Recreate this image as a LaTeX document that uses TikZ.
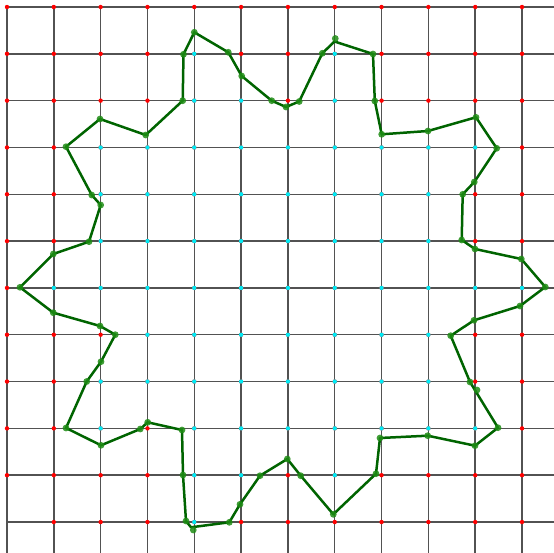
\documentclass[tikz,border=0pt]{standalone}
\usepackage{tikz}

\definecolor{ringline}{RGB}{0,100,0}
\definecolor{ringdot}{RGB}{30,140,20}
\definecolor{indot}{RGB}{0,235,245}

\tikzset{
  gridline/.style={line width=1.5pt, draw=black!68},
  ring/.style={line width=2.5pt, draw=ringline},
  outpt/.style={fill=red},
  inpt/.style={fill=indot},
  vertpt/.style={fill=ringdot, fill opacity=0.85}
}

\begin{document}
\begin{tikzpicture}[x=1pt, y=-1pt, line cap=round, line join=round]

  %% ════ 网格线 ════
  \foreach \i in {0,...,11} {
    \draw[gridline, line cap=butt] ({7+46.82*\i},7) -- ({7+46.82*\i},553);
    \draw[gridline, line cap=butt] (7,{7+46.82*\i}) -- (554,{7+46.82*\i});
  }

  %% ════ 格点：先全画红（左下角没有），再把内部的盖成青色 ════
  \foreach \i in {1,...,11}
    \foreach \j in {0,...,11}
      \fill[outpt] ({7+46.82*\i},{7+46.82*\j}) circle (2.2);
  \foreach \j in {0,...,10}
    \fill[outpt] (7,{7+46.82*\j}) circle (2.2);
  \foreach \j/\inrow in {1/{4,7}, 2/{4,5,7}, 3/{2,...,10}, 4/{2,...,9},
                         5/{2,...,9}, 6/{1,...,11}, 7/{3,...,9}, 8/{2,...,9},
                         9/{2,4,5,6,7,8,9,10}, 10/{4,5,7}, 11/{4}}
    \foreach \i in \inrow
      \fill[inpt] ({7+46.82*\i},{7+46.82*\j}) circle (2.2);

  %% ════ 多边形顶点（像素坐标，顺时针）════
  \foreach \x/\y [count=\k] in {
      194.3/32.3, 228.3/52.3, 241.7/76.0, 271.7/100.7, 286.0/107.0,
      299.2/101.5, 322.3/53.3, 334.5/41.5, 373.0/54.0, 374.8/101.0,
      381.7/134.3, 428.0/131.0, 476.0/117.3, 496.7/148.3, 474.3/182.0,
      462.7/194.3, 461.7/240.0, 475.0/249.0, 521.3/259.0, 545.3/287.0,
      520.0/306.0, 474.0/320.3, 450.7/335.7, 470.0/382.0, 498.0/427.7,
      475.0/445.7, 427.7/435.7, 380.0/438.0, 376.0/473.7, 333.3/514.3,
      300.7/475.7, 287.3/459.0, 260.0/475.7, 240.0/504.3, 229.3/522.3,
      191.0/527.3, 186.0/521.0, 183.0/475.0, 182.0/430.0, 147.7/422.3,
      140.3/429.0, 101.0/445.3, 66.0/428.0, 86.7/381.5, 101.0/361.7,
      115.3/334.7, 100.0/326.0, 53.3/312.7, 20.0/287.3, 53.3/254.0,
      89.0/241.7, 100.7/205.0, 91.7/195.0, 66.0/146.7, 100.0/119.0,
      145.7/135.0, 182.7/100.7, 183.5/54.3}
    \coordinate (v\k) at (\x,\y);

  \draw[ring] (v1) \foreach \k in {2,...,58} { -- (v\k) } -- cycle;

  %% 顶点圆点；v8、v36 的点比折线角略偏，另有一个落在边上的点
  \foreach \k in {1,...,7,9,10,...,35,37,38,...,58}
    \fill[vertpt] (v\k) circle (3.4);
  \fill[vertpt] (335.3,38.5) circle (3.4);   % v8
  \fill[vertpt] (193.3,530.0) circle (3.4);  % v36
  \fill[vertpt] (477.0,390.0) circle (3.4);  % 边上

  % 钉死画布
  \pgfresetboundingbox
  \path[use as bounding box] (0,0) rectangle (554,553);
\end{tikzpicture}
\end{document}
